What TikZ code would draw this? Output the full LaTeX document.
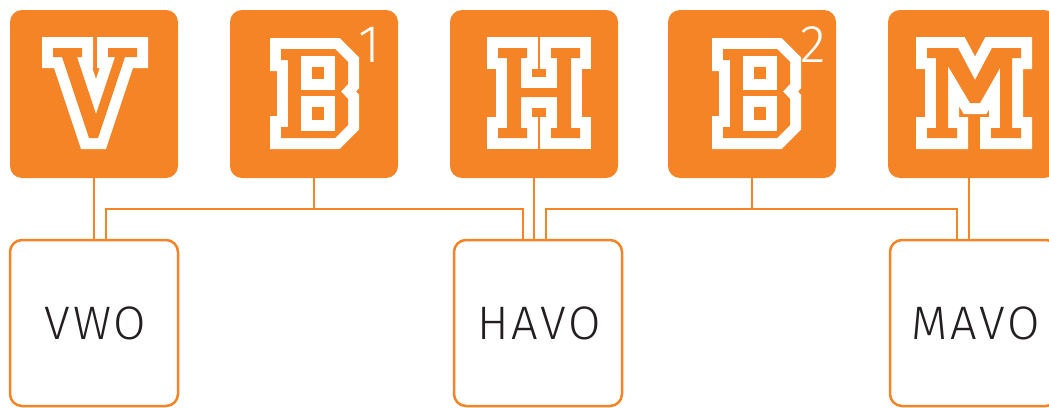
\documentclass[tikz,border=0pt]{standalone}
\usepackage{fontspec}
\setmainfont{Fira Sans Light}
\definecolor{vorange}{RGB}{245,132,38}
\definecolor{vtext}{RGB}{35,31,32}
\newcommand\collegeglyph[1]{\draw[band] #1; \fill[vorange] #1;}
\begin{document}
\begin{tikzpicture}[x=1pt,y=-1pt,
  topbox/.style={fill=vorange, draw=none, rounded corners=12pt, minimum width=168pt, minimum height=168pt, inner sep=0pt},
  lowbox/.style={draw=vorange, fill=white, line width=2.5pt, rounded corners=12pt, minimum width=168pt, minimum height=166pt, inner sep=0pt},
  lbl/.style={text=vtext, inner sep=0pt, font=\fontsize{47}{50}\selectfont\addfontfeature{LetterSpace=6}},
  wire/.style={draw=vorange, line width=2.5pt},
  band/.style={draw=white, line width=22pt, line join=miter, miter limit=2},
  suplbl/.style={text=white, inner sep=0pt, font=\fontsize{53}{55}\selectfont}]
\useasboundingbox (0,0) rectangle (1049,407);
% top boxes
\node[topbox] (V) at (94,94) {};
\node[topbox] (B1) at (314,94) {};
\node[topbox] (H) at (534,94) {};
\node[topbox] (B2) at (752,94) {};
\node[topbox] (M) at (972,94) {};
% bottom boxes
\node[lowbox] (VWO) at (94,323) {};
\node[lowbox] (HAVO) at (538,323) {};
\node[lowbox] (MAVO) at (974,323) {};
\node[lbl] (tVWO) at ([xshift=1.5pt]VWO.center) {VWO};
\node[lbl] (tHAVO) at ([xshift=1.5pt]HAVO.center) {HAVO};
\node[lbl] (tMAVO) at ([xshift=1.5pt]MAVO.center) {MAVO};
% connectors
\coordinate (j1) at (314,209);
\coordinate (j2) at (752,209);
\draw[wire] (V.south) -- (VWO.north);
\draw[wire] (B1.south) -- (j1);
\draw[wire] ([xshift=12pt]VWO.north) |- (j1) -| ([xshift=-15pt]HAVO.north);
\draw[wire] (H.south) -- ([xshift=-4pt]HAVO.north);
\draw[wire] (B2.south) -- (j2);
\draw[wire] ([xshift=8pt]HAVO.north) |- (j2) -| ([xshift=-17pt]MAVO.north);
\draw[wire] ([xshift=-3pt]M.south) -- ([xshift=-5pt]MAVO.north);
% letter V
\collegeglyph{(53,48) -- (82,48) -- (82,57) -- (77,57) -- (96,114) -- (115,57) -- (108,57) -- (108,48) -- (137,48) -- (137,57) -- (125,57) -- (98,138) -- (89,138) -- (62,57) -- (53,57) -- cycle}
% letter B (twice)
\foreach \dx in {0, 442}{
\begin{scope}[xshift=\dx pt]
\collegeglyph{(281,49) -- (335,49) -- (348,62) -- (348,84) -- (341,91.5) -- (348,99) -- (348,125) -- (335,138) -- (281,138) -- (281,127) -- (288,127) -- (288,60) -- (281,60) -- cycle}
\collegeglyph{(312,67) rectangle (324,79)}
\collegeglyph{(312,107) rectangle (324,120)}
\end{scope}}
\node[suplbl] (s1) at (369,45) {1};
\node[suplbl] (s2) at (813,45) {2};
% letter H
\collegeglyph{(498,48) -- (527,48) -- (527,58) -- (521,58) -- (521,88) -- (557,88) -- (557,58) -- (551,58) -- (551,48) -- (580,48) -- (580,58) -- (571,58) -- (571,128) -- (580,128) -- (580,138) -- (551,138) -- (551,128) -- (557,128) -- (557,97) -- (521,97) -- (521,128) -- (527,128) -- (527,138) -- (498,138) -- (498,128) -- (507,128) -- (507,58) -- (498,58) -- cycle}
% letter M
\collegeglyph{(927,48) -- (958,48) -- (975,80) -- (992,48) -- (1021,48) -- (1021,58) -- (1012,58) -- (1012,128) -- (1021,128) -- (1021,138) -- (991,138) -- (991,128) -- (1000,128) -- (1000,68) -- (980,103) -- (970,103) -- (948,66) -- (948,128) -- (957,128) -- (957,138) -- (927,138) -- (927,128) -- (936,128) -- (936,58) -- (927,58) -- cycle}
\end{tikzpicture}
\end{document}
